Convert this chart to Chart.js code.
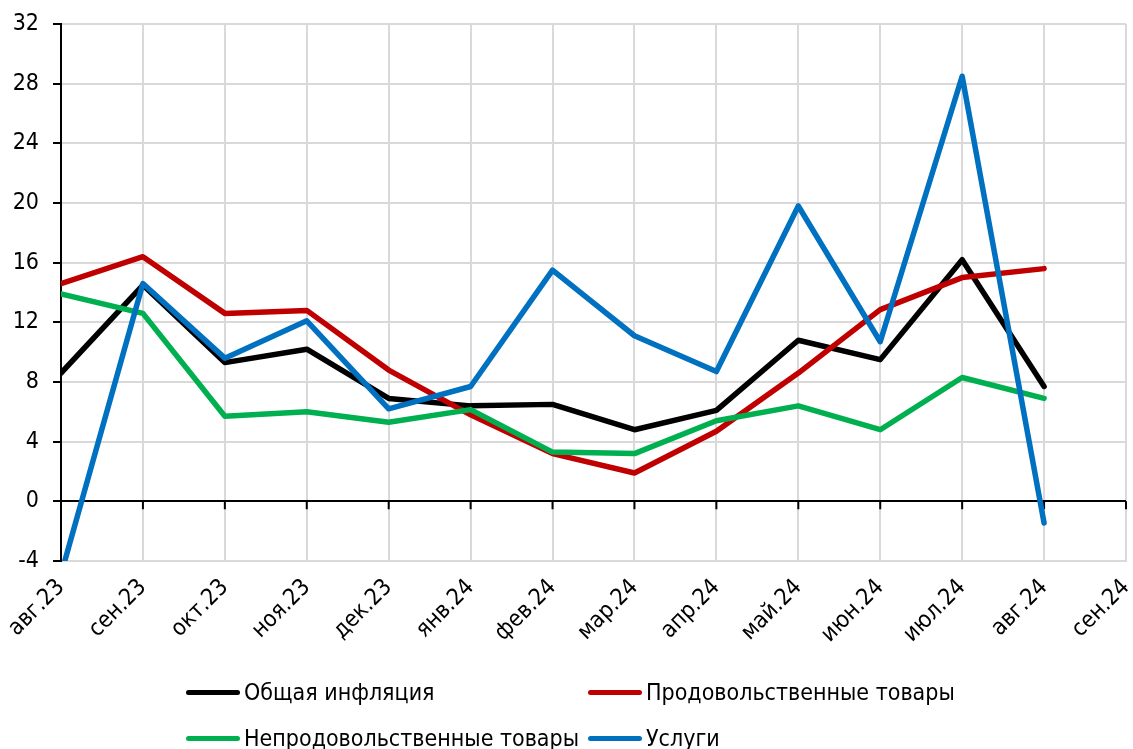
<!DOCTYPE html>
<html>
<head>
<meta charset="utf-8">
<script src="https://cdn.jsdelivr.net/npm/chart.js@4"></script>
<style>
  html, body { margin: 0; padding: 0; background: #fff; }
  #wrap { position: relative; width: 1133px; height: 749px; }
  #legend { position: absolute; left: 186px; top: 679px; display: grid; grid-template-columns: 402px auto; row-gap: 20px;
            font-family: "DejaVu Sans Condensed", "DejaVu Sans", sans-serif; font-size: 23px; color: #000; line-height: 26px; }
  .item { display: flex; align-items: center; white-space: nowrap; }
  .swatch { width: 54px; height: 5px; border-radius: 3px; margin-right: 4px; }
</style>
</head>
<body>
<div id="wrap">
  <canvas id="c" width="1133" height="749"></canvas>
  <div id="legend"></div>
</div>
<script>
const categories = ['авг.23','сен.23','окт.23','ноя.23','дек.23','янв.24','фев.24','мар.24','апр.24','май.24','июн.24','июл.24','авг.24','сен.24'];
const seriesNames = ['Общая инфляция','Продовольственные товары','Непродовольственные товары','Услуги'];
const generalInflation = [8.6, 14.5, 9.3, 10.2, 6.9, 6.4, 6.5, 4.8, 6.1, 10.8, 9.5, 16.2, 7.7, null];
const foodGoods       = [14.6, 16.4, 12.6, 12.8, 8.8, 5.8, 3.2, 1.9, 4.7, 8.6, 12.85, 15.0, 15.6, null];
const nonFoodGoods    = [13.9, 12.6, 5.7, 6.0, 5.3, 6.15, 3.3, 3.2, 5.4, 6.4, 4.8, 8.3, 6.9, null];
const services        = [-4.9, 14.6, 9.6, 12.1, 6.2, 7.7, 15.5, 11.1, 8.7, 19.8, 10.7, 28.5, -1.45, null];
const yTicks = [-4, 0, 4, 8, 12, 16, 20, 24, 28, 32];
const seriesColors = ['#000000', '#c00000', '#00b050', '#0070c0'];

const FONT = '"DejaVu Sans Condensed", "DejaVu Sans", sans-serif';
const seriesData = [generalInflation, foodGoods, nonFoodGoods, services];

const zeroTicks = {
  id: 'zeroTicks',
  beforeDatasetsDraw(chart) {
    const x = chart.scales.x, y = chart.scales.y;
    const y0 = y.getPixelForValue(0);
    const ctx = chart.ctx;
    ctx.save();
    ctx.strokeStyle = '#000';
    ctx.lineWidth = 2;
    ctx.beginPath();
    for (let i = 1; i < categories.length; i++) {
      const px = x.getPixelForValue(i);
      ctx.moveTo(px, y0);
      ctx.lineTo(px, y0 + 8);
    }
    ctx.stroke();
    ctx.restore();
  }
};

new Chart(document.getElementById('c'), {
  type: 'line',
  data: {
    labels: categories,
    datasets: seriesData.map((d, i) => ({
      label: seriesNames[i],
      data: d,
      borderColor: seriesColors[i],
      backgroundColor: seriesColors[i],
      borderWidth: 5.5,
      pointRadius: 0,
      tension: 0,
      borderJoinStyle: 'round',
      borderCapStyle: 'round',
      clip: 0,
      order: 4 - i
    }))
  },
  options: {
    responsive: false,
    animation: false,
    layout: { padding: { left: 0, right: 7, top: 24, bottom: 78 } },
    plugins: { legend: { display: false }, tooltip: { enabled: false } },
    scales: {
      x: {
        offset: false,
        grid: { color: '#d9d9d9', lineWidth: 2, drawTicks: false },
        border: { color: '#d9d9d9', width: 2 },
        ticks: { color: '#000', font: { family: FONT, size: 23 }, minRotation: 45, maxRotation: 45, padding: 13, autoSkip: false },
        afterFit(s) { s.height = 110; s.paddingLeft = 0; s.paddingRight = 0; }
      },
      y: {
        min: -4, max: 32,
        afterBuildTicks(s) { s.ticks = yTicks.map(v => ({ value: v })); },
        grid: {
          color: c => (c.tick && c.tick.value === 0) ? '#000' : '#d9d9d9',
          lineWidth: 2, tickLength: 8, tickColor: '#000', tickWidth: 2
        },
        border: { color: '#000', width: 2 },
        ticks: { color: '#000', font: { family: FONT, size: 23 }, padding: 14 },
        afterFit(s) { s.width = 61; s.paddingTop = 0; s.paddingBottom = 0; }
      }
    }
  },
  plugins: [zeroTicks]
});

const legend = document.getElementById('legend');
seriesNames.forEach((name, i) => {
  const item = document.createElement('div');
  item.className = 'item';
  const sw = document.createElement('span');
  sw.className = 'swatch';
  sw.style.background = seriesColors[i];
  const tx = document.createElement('span');
  tx.textContent = name;
  item.appendChild(sw); item.appendChild(tx);
  legend.appendChild(item);
});
</script>
</body>
</html>
